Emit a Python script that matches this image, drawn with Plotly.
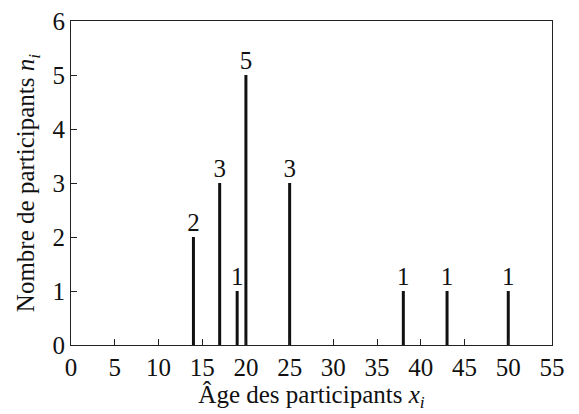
import plotly.graph_objects as go

ages = [14, 17, 19, 20, 25, 38, 43, 50]
counts = [2, 3, 1, 5, 3, 1, 1, 1]
x_ticks = [0, 5, 10, 15, 20, 25, 30, 35, 40, 45, 50, 55]
y_ticks = [0, 1, 2, 3, 4, 5, 6]

FONT = "Liberation Serif, Times New Roman, DejaVu Serif, serif"
FS = 25

lx, ly = [], []
for a, c in zip(ages, counts):
    lx += [a, a, None]
    ly += [0, c, None]

fig = go.Figure()
fig.add_trace(go.Scatter(x=lx, y=ly, mode="lines",
                         line=dict(color="#111111", width=3),
                         hoverinfo="skip", showlegend=False))
fig.add_trace(go.Scatter(x=ages, y=counts, mode="text",
                         text=[str(c) for c in counts],
                         textposition="top center",
                         textfont=dict(family=FONT, size=FS, color="#111111"),
                         cliponaxis=False, showlegend=False))

axis_common = dict(showgrid=False, zeroline=False, showline=True,
                   linecolor="#222222", linewidth=1, mirror=True,
                   ticks="inside", ticklen=6, tickcolor="#222222",
                   automargin=False,
                   tickfont=dict(family=FONT, size=FS, color="#111111"))

fig.update_xaxes(range=[0, 55], tickvals=x_ticks,
                 title=dict(text="Âge des participants <i>x</i><sub><i>i</i></sub>",
                            font=dict(family=FONT, size=FS, color="#111111"),
                            standoff=3),
                 **axis_common)
fig.update_yaxes(range=[0, 6], tickvals=y_ticks,
                 title=dict(text="Nombre de participants <i>n</i><sub><i>i</i></sub>",
                            font=dict(family=FONT, size=FS, color="#111111"),
                            standoff=10),
                 **axis_common)

fig.update_layout(width=579, height=414,
                  margin=dict(l=71, r=27, t=21, b=69),
                  plot_bgcolor="white", paper_bgcolor="white",
                  font=dict(family=FONT))

fig.write_html("out.html",
               config={"displayModeBar": False},
               post_script="document.body.style.margin='0';document.body.style.overflow='hidden';")
